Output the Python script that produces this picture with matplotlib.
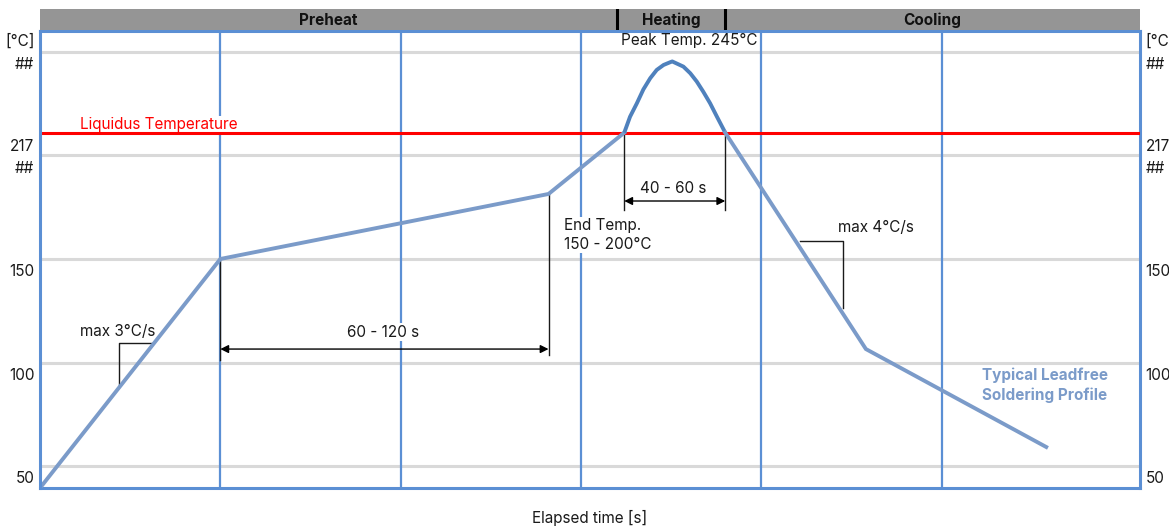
import matplotlib.pyplot as plt

plt.rcParams["font.family"] = ["Inter", "DejaVu Sans"]

# profile: elapsed time [s] vs temperature [°C]
ramp_t = [0, 50, 141, 162]
ramp_temp = [39.4, 150, 181.4, 211]
peak_t = [162, 163.6, 165.5, 167.3, 169.2, 171.0, 172.9, 174.7, 175.3,
          178.4, 180.3, 182.1, 183.9, 185.8, 187.7, 190]
peak_temp = [211, 218.7, 225.2, 231.9, 237.3, 241.3, 243.7, 245.0, 245.4,
             242.9, 239.7, 235.7, 230.8, 225.2, 218.7, 211]
cool_t = [190, 229, 279]
cool_temp = [211, 106.5, 59.2]

liquidus = 210.9
grid_temps = [50, 100, 150, 200, 250]
grid_times = [50, 100, 150, 200, 250]
ytick_pos = [255.8, 244.7, 205.1, 194.5, 144.7, 94.6, 44.7]
ytick_labels = ["[°C]", "##", "217", "##", "150", "100", "50"]

phases = ["Preheat", "Heating", "Cooling"]
phase_edges = [0, 160, 190, 305]

xlim = (0, 305)
ylim = (39.4, 260.1)

line_col = "#7b9bc9"
peak_col = "#4f81bd"
frame_col = "#5b8fd4"

fig = plt.figure(figsize=(11.69, 5.29), dpi=100)
ax = fig.add_axes([40 / 1169, 1 - 488 / 529, 1100 / 1169, 457 / 529])
hdr = fig.add_axes([40 / 1169, 1 - 30 / 529, 1100 / 1169, 21 / 529])

# grid
for g in grid_temps:
    ax.axhline(g, color="#d9d9d9", lw=2.2, zorder=1)
for g in grid_times:
    ax.axvline(g, color=frame_col, lw=1.6, zorder=2)

ax.axhline(liquidus, color="#ff0000", lw=2.2, zorder=4.5)

# profile
ax.plot(ramp_t, ramp_temp, color=line_col, lw=2.8, zorder=5, solid_joinstyle="miter")
ax.plot(peak_t, peak_temp, color=peak_col, lw=2.8, zorder=5,
        solid_joinstyle="round", solid_capstyle="butt")
ax.plot(cool_t, cool_temp, color=line_col, lw=2.8, zorder=5, solid_joinstyle="miter")

# dimension lines
dim = dict(color="#1a1a1a", lw=1.0, zorder=4)
ax.plot([ramp_t[1], ramp_t[1]], [ramp_temp[1], 101.2], **dim)
ax.plot([ramp_t[2], ramp_t[2]], [ramp_temp[2], 103.6], **dim)
ax.plot([peak_t[0], peak_t[0]], [liquidus, 173.7], **dim)
ax.plot([peak_t[-1], peak_t[-1]], [liquidus, 173.7], **dim)
arrow = dict(arrowstyle="<|-|>", color="black", lw=1.0, mutation_scale=12,
             shrinkA=0, shrinkB=0)
ax.annotate("", xy=(ramp_t[1], 106.5), xytext=(ramp_t[2], 106.5),
            arrowprops=arrow, zorder=6)
ax.annotate("", xy=(peak_t[0], 178), xytext=(peak_t[-1], 178),
            arrowprops=arrow, zorder=6)

# slope markers
ax.plot([21.9, 21.9, 31.1], [88.2, 109.4, 109.4], **dim)
ax.plot([210.8, 222.7, 222.7], [158.7, 158.7, 126.3], **dim)

box = dict(facecolor="white", edgecolor="none", pad=1)
fs = 11
ax.text(11.1, 214.9, "Liquidus Temperature", color="#ff0000", fontsize=fs,
        va="center", ha="left", bbox=box, zorder=4)
ax.text(180, 255.3, "Peak Temp. 245°C", fontsize=fs, ha="center", va="center",
        color="#1a1a1a", zorder=6)
ax.text(11.1, 115.2, "max 3°C/s", fontsize=fs, ha="left", va="center",
        color="#1a1a1a", zorder=6)
ax.text(95.1, 114.7, "60 - 120 s", fontsize=fs, ha="center", va="center",
        color="#1a1a1a", bbox=box, zorder=6)
ax.text(145.3, 169.8, "End Temp.\n150 - 200°C", fontsize=fs, ha="left", va="top",
        color="#1a1a1a", bbox=box, linespacing=1.3, zorder=6)
ax.text(175.5, 183.8, "40 - 60 s", fontsize=fs, ha="center", va="center",
        color="#1a1a1a", zorder=6)
ax.text(221.3, 165, "max 4°C/s", fontsize=fs, ha="left", va="center",
        color="#1a1a1a", zorder=6)
ax.text(261.2, 89, "Typical Leadfree\nSoldering Profile", fontsize=fs,
        ha="left", va="center", color=line_col, fontweight="bold",
        linespacing=1.4, zorder=6)

ax.set_xlim(*xlim)
ax.set_ylim(*ylim)
ax.set_xticks([])
ax.set_yticks(ytick_pos)
ax.set_yticklabels(ytick_labels)
ax.tick_params(axis="y", length=0, labelsize=fs, labelcolor="#1a1a1a",
               labelright=True, pad=4)
for s in ax.spines.values():
    s.set_color(frame_col)
    s.set_linewidth(2.2)
ax.spines["left"].set_zorder(7)
ax.set_xlabel("Elapsed time [s]", fontsize=fs, labelpad=16, color="#1a1a1a")

# phase header
hdr.set_facecolor("#959595")
hdr.set_xlim(*xlim)
hdr.set_ylim(0, 1)
for e in phase_edges[1:-1]:
    hdr.axvline(e, color="black", lw=2.2)
for name, a, b in zip(phases, phase_edges[:-1], phase_edges[1:]):
    hdr.text((a + b) / 2, 0.45, name, ha="center", va="center",
             fontsize=fs, fontweight="bold", color="#111111")
hdr.set_xticks([])
hdr.set_yticks([])
for s in hdr.spines.values():
    s.set_visible(False)

fig.savefig("out.png", dpi=100)
